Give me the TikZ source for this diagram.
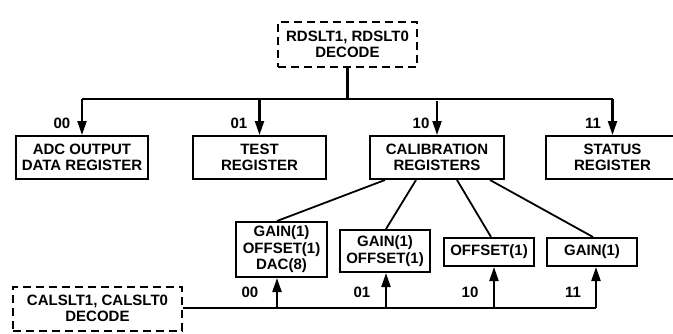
\documentclass[tikz,border=0pt]{standalone}
\usepackage{fontspec}
\setmainfont{Liberation Sans}
\usetikzlibrary{arrows.meta}
\begin{document}
\begin{tikzpicture}[x=1pt,y=-1pt,
  every node/.style={font=\fontsize{15}{16.5}\selectfont\bfseries, inner sep=0pt, align=center},
  box/.style={draw, line width=2pt, minimum width=#1},
  dbox/.style={draw, line width=2pt, dash pattern=on 8pt off 5pt, minimum width=#1},
  wire/.style={line width=2.2pt},
  slant/.style={line width=1.8pt},
  arr/.style={line width=2.2pt, -{Triangle[length=14pt,width=9pt]}},
  lbl/.style={anchor=center}
]
\useasboundingbox (0,0) rectangle (673,333);
% top decode
\node[dbox=139pt, minimum height=45pt] (rd) at (347.5,44.5) {RDSLT1, RDSLT0\\DECODE};
% registers
\node[box=132pt, minimum height=43pt] (adc) at (82,157.5) {ADC OUTPUT\\DATA REGISTER};
\node[box=133pt, minimum height=43pt] (test) at (259.5,157.5) {TEST\\REGISTER};
\node[box=134pt, minimum height=43pt] (cal) at (437,157.5) {CALIBRATION\\REGISTERS};
\node[box=133pt, minimum height=43pt] (status) at (612.5,157.5) {STATUS\\REGISTER};
% top bus
\coordinate (j) at (347.5,99);
\draw[wire] (rd.south) -- (j);
\draw[wire] (adc.north |- j) -- (status.north |- j);
\draw[arr] (adc.north |- j) -- (adc.north);
\draw[arr] (test.north |- j) -- (test.north);
\draw[arr] ([yshift=-2pt]cal.north |- j) -- (cal.north);
\draw[arr] (status.north |- j) -- (status.north);
\node[lbl] (l00) at (62,123) {00};
\node[lbl] (l01) at (239,123) {01};
\node[lbl] (l10) at (421,123) {10};
\node[lbl] (l11) at (593,123) {11};
% calibration sub-registers
\node[box=91pt, minimum height=55pt] (b1) at (281.5,249.5) {GAIN(1)\\OFFSET(1)\\DAC(8)};
\node[box=90pt, minimum height=42pt] (b2) at (385,251) {GAIN(1)\\OFFSET(1)};
\node[box=90pt, minimum height=28pt] (b3) at (489,252) {OFFSET(1)};
\node[box=90pt, minimum height=28pt] (b4) at (592,252) {GAIN(1)};
\draw[slant] ([xshift=-52pt]cal.south) -- ([xshift=-4.5pt]b1.north);
\draw[slant] ([xshift=-21pt]cal.south) -- ([xshift=1pt]b2.north);
\draw[slant] ([xshift=20pt]cal.south) -- ([xshift=2pt]b3.north);
\draw[slant] ([xshift=53pt]cal.south) -- ([xshift=1pt]b4.north);
% bottom decode
\node[dbox=169pt, minimum height=44pt] (cs) at (97.5,308.5) {CALSLT1, CALSLT0\\DECODE};
\coordinate (c1) at (277,308);
\coordinate (c2) at (386,308);
\coordinate (c3) at (494,308);
\coordinate (c4) at (596,308);
\draw[wire] (cs.east |- c1) -- (c4);
\draw[arr] (c1) -- (c1 |- b1.south);
\draw[arr] (c2) -- (c2 |- b2.south);
\draw[arr] (c3) -- (c3 |- b3.south);
\draw[arr] (c4) -- (c4 |- b4.south);
\node[lbl] (m00) at (250,292) {00};
\node[lbl] (m01) at (362,292) {01};
\node[lbl] (m10) at (470,292) {10};
\node[lbl] (m11) at (573,292) {11};
\end{tikzpicture}
\end{document}
